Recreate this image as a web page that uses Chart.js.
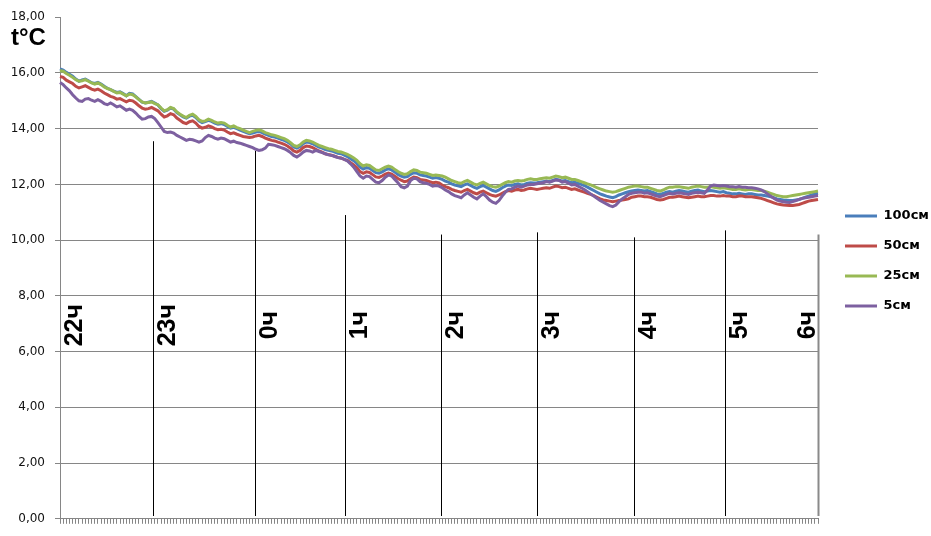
<!DOCTYPE html>
<html>
<head>
<meta charset="utf-8">
<script src="https://cdn.jsdelivr.net/npm/chart.js@4/dist/chart.umd.min.js"></script>
<style>
html,body{margin:0;padding:0;background:#fff;}
#c{display:block;}
</style>
</head>
<body>
<canvas id="c" width="931" height="536"></canvas>
<script>
// ---- categories: one reading every 2 minutes from 22:00 to 6:00 ----
const startHour = 22;
const stepMinutes = 2;
const pointCount = 241;
const categories = [];
for (let i = 0; i < pointCount; i++) {
  const m = startHour * 60 + i * stepMinutes;
  const h = Math.floor(m / 60) % 24, mm = m % 60;
  categories.push(h + ':' + String(mm).padStart(2, '0'));
}

const seriesNames = ['100см', '50см', '25см', '5см'];
const seriesColors = ['#4a7ebb', '#be4b48', '#98b954', '#7d60a0'];

const t100 = [
16.15,16.10,16.02,15.95,15.88,15.78,15.70,15.75,15.78,15.72,15.65,15.62,15.66,15.60,15.52,15.45,15.40,15.35,15.30,15.32,15.26,15.18,15.27,15.25,15.15,15.05,14.95,14.92,14.95,14.98,14.92,
14.85,14.72,14.62,14.66,14.74,14.70,14.58,14.50,14.42,14.38,14.45,14.48,14.40,14.28,14.22,14.25,14.30,14.26,14.20,14.16,14.18,14.15,14.08,14.02,14.05,14.00,13.95,13.90,13.86,13.82,
13.84,13.88,13.90,13.86,13.80,13.76,13.72,13.70,13.66,13.62,13.58,13.52,13.45,13.34,13.30,13.36,13.46,13.52,13.50,13.46,13.40,13.34,13.30,13.25,13.22,13.20,13.16,13.12,13.10,13.05,
13.00,12.92,12.85,12.75,12.62,12.55,12.60,12.58,12.50,12.42,12.40,12.45,12.52,12.56,12.52,12.44,12.36,12.30,12.26,12.28,12.36,12.42,12.40,12.34,12.32,12.30,12.26,12.22,12.25,12.22,
12.18,12.12,12.08,12.02,11.98,11.95,11.92,11.98,12.02,11.96,11.90,11.86,11.92,11.96,11.90,11.84,11.78,11.75,11.80,11.88,11.94,11.98,11.96,12.00,12.02,11.98,12.00,12.04,12.06,12.05,
12.06,12.08,12.10,12.12,12.10,12.14,12.18,12.16,12.12,12.14,12.10,12.06,12.08,12.04,12.00,11.96,11.90,11.84,11.78,11.72,11.66,11.62,11.58,11.55,11.52,11.56,11.62,11.66,11.70,11.74,
11.76,11.78,11.80,11.78,11.76,11.78,11.74,11.70,11.66,11.64,11.68,11.72,11.74,11.72,11.76,11.78,11.76,11.74,11.72,11.76,11.78,11.80,11.76,11.74,11.76,11.78,11.76,11.74,11.72,11.74,
11.70,11.68,11.66,11.66,11.68,11.66,11.64,11.66,11.66,11.64,11.62,11.62,11.60,11.58,11.56,11.52,11.48,11.46,11.44,11.43,11.42,11.42,11.44,11.46,11.50,11.54,11.58,11.62,11.66,11.68
];

const t50 = [
15.87,15.84,15.74,15.68,15.62,15.52,15.46,15.50,15.54,15.48,15.42,15.38,15.42,15.36,15.28,15.22,15.16,15.12,15.06,15.08,15.02,14.96,15.02,15.00,14.92,14.82,14.74,14.70,14.72,14.76,14.70,
14.64,14.52,14.42,14.46,14.54,14.50,14.38,14.30,14.22,14.18,14.25,14.28,14.20,14.08,14.02,14.05,14.10,14.06,14.00,13.96,13.98,13.95,13.88,13.82,13.85,13.80,13.76,13.72,13.70,13.68,
13.70,13.74,13.76,13.72,13.66,13.62,13.58,13.56,13.52,13.48,13.44,13.38,13.30,13.20,13.16,13.22,13.32,13.38,13.36,13.32,13.26,13.20,13.16,13.10,13.07,13.05,13.01,12.97,12.95,12.90,
12.86,12.78,12.70,12.60,12.46,12.40,12.45,12.43,12.35,12.27,12.25,12.30,12.37,12.41,12.37,12.29,12.21,12.15,12.10,12.12,12.20,12.26,12.24,12.18,12.16,12.14,12.10,12.06,12.08,12.05,
11.98,11.92,11.88,11.82,11.78,11.75,11.72,11.78,11.82,11.76,11.70,11.66,11.72,11.76,11.70,11.64,11.60,11.58,11.62,11.68,11.74,11.78,11.76,11.80,11.82,11.78,11.80,11.84,11.86,11.84,
11.82,11.84,11.86,11.88,11.86,11.90,11.94,11.92,11.88,11.90,11.86,11.82,11.84,11.80,11.76,11.72,11.68,11.64,11.60,11.54,11.48,11.44,11.42,11.40,11.38,11.40,11.42,11.44,11.46,11.48,
11.54,11.56,11.58,11.58,11.56,11.56,11.54,11.50,11.46,11.44,11.46,11.50,11.54,11.54,11.56,11.58,11.56,11.54,11.52,11.54,11.56,11.58,11.56,11.56,11.58,11.60,11.60,11.58,11.58,11.60,
11.58,11.58,11.56,11.56,11.58,11.58,11.56,11.56,11.56,11.54,11.52,11.50,11.46,11.42,11.38,11.34,11.30,11.28,11.26,11.25,11.24,11.24,11.26,11.28,11.32,11.36,11.40,11.42,11.44,11.46
];

const t25 = [
16.08,16.06,15.98,15.92,15.84,15.76,15.70,15.72,15.76,15.70,15.64,15.60,15.64,15.58,15.50,15.44,15.40,15.34,15.28,15.30,15.24,15.18,15.24,15.22,15.14,15.04,14.96,14.92,14.94,14.96,14.90,
14.86,14.74,14.64,14.68,14.76,14.72,14.60,14.52,14.45,14.40,14.48,14.52,14.44,14.32,14.26,14.28,14.34,14.30,14.24,14.20,14.22,14.20,14.12,14.06,14.10,14.04,14.00,13.95,13.90,13.86,
13.90,13.94,13.96,13.92,13.86,13.82,13.78,13.76,13.72,13.68,13.64,13.58,13.50,13.40,13.36,13.42,13.52,13.58,13.56,13.52,13.46,13.40,13.36,13.32,13.28,13.26,13.22,13.18,13.16,13.12,
13.08,13.02,12.95,12.86,12.74,12.66,12.70,12.68,12.60,12.52,12.50,12.56,12.62,12.66,12.62,12.54,12.46,12.40,12.36,12.38,12.46,12.52,12.50,12.44,12.42,12.40,12.36,12.32,12.34,12.32,
12.30,12.26,12.20,12.14,12.10,12.06,12.04,12.10,12.14,12.08,12.02,11.98,12.04,12.08,12.02,11.96,11.92,11.90,11.94,12.00,12.06,12.10,12.08,12.12,12.14,12.12,12.14,12.18,12.20,12.18,
12.18,12.20,12.22,12.24,12.22,12.26,12.30,12.28,12.24,12.26,12.22,12.18,12.18,12.14,12.10,12.06,12.02,11.98,11.94,11.88,11.84,11.80,11.76,11.74,11.72,11.74,11.78,11.82,11.86,11.90,
11.92,11.94,11.94,11.92,11.90,11.90,11.86,11.82,11.78,11.76,11.80,11.86,11.90,11.90,11.92,11.92,11.90,11.88,11.86,11.90,11.92,11.94,11.92,11.90,11.90,11.92,11.90,11.88,11.86,11.88,
11.86,11.84,11.82,11.82,11.84,11.82,11.80,11.82,11.82,11.80,11.78,11.78,11.76,11.72,11.68,11.64,11.60,11.58,11.56,11.56,11.58,11.60,11.62,11.64,11.66,11.68,11.70,11.72,11.74,11.76
];

const t5 = [
15.66,15.58,15.46,15.36,15.22,15.10,15.00,14.98,15.06,15.08,15.02,14.98,15.04,14.98,14.90,14.86,14.92,14.86,14.78,14.82,14.74,14.66,14.70,14.66,14.56,14.44,14.34,14.36,14.42,14.44,14.36,
14.22,14.06,13.90,13.86,13.88,13.84,13.76,13.70,13.64,13.58,13.62,13.60,13.56,13.52,13.56,13.68,13.76,13.72,13.66,13.62,13.66,13.64,13.58,13.52,13.55,13.50,13.48,13.44,13.40,13.36,
13.32,13.26,13.22,13.24,13.30,13.44,13.42,13.40,13.36,13.32,13.28,13.22,13.14,13.04,12.98,13.06,13.16,13.22,13.20,13.16,13.22,13.18,13.14,13.10,13.06,13.04,13.00,12.96,12.94,12.90,
12.84,12.74,12.62,12.46,12.30,12.22,12.30,12.28,12.18,12.08,12.06,12.14,12.26,12.34,12.30,12.18,12.06,11.92,11.88,11.94,12.14,12.22,12.20,12.10,12.06,12.04,12.00,11.94,11.96,11.94,
11.88,11.80,11.74,11.66,11.60,11.56,11.52,11.62,11.70,11.62,11.54,11.48,11.58,11.66,11.56,11.44,11.36,11.32,11.42,11.58,11.72,11.82,11.84,11.90,11.94,11.90,11.94,11.98,12.00,12.00,
12.02,12.04,12.06,12.10,12.08,12.12,12.16,12.14,12.08,12.10,12.04,11.98,12.00,11.94,11.88,11.82,11.74,11.66,11.58,11.50,11.42,11.36,11.30,11.24,11.20,11.26,11.38,11.48,11.56,11.64,
11.68,11.70,11.72,11.72,11.68,11.70,11.66,11.62,11.58,11.56,11.60,11.64,11.68,11.66,11.68,11.70,11.68,11.66,11.64,11.68,11.70,11.72,11.70,11.68,11.80,11.94,11.98,11.96,11.94,11.96,
11.94,11.92,11.92,11.90,11.92,11.90,11.90,11.88,11.88,11.86,11.84,11.80,11.74,11.66,11.58,11.50,11.44,11.40,11.38,11.36,11.35,11.38,11.42,11.46,11.50,11.52,11.54,11.56,11.58,11.60
];

// ---- y axis ----
const yMin = 0, yMax = 18, yStep = 2;
// gridline colour per tick (0 … 18); no gridline at the top value
const gridColors = ['#868686','#868686','#868686','#868686','#868686','#868686','#868686','#868686','#868686','rgba(0,0,0,0)'];

// ---- hour markers (position in category units, top of drawn line in °C) ----
const hourLabels = ['22ч', '23ч', '0ч', '1ч', '2ч', '3ч', '4ч', '5ч', '6ч'];
const hourPos = [0, 29.5, 61.7, 90.3, 120.6, 151, 181.7, 210.5, 240];
const hourLineTop = [null, 13.55, 13.2, 10.9, 10.2, 10.28, 10.1, 10.35, 10.2];
const hourLineBottom = 0.1;
const hourLabelValue = 6.95;

// value gridlines as 1-px filled bands at the y scale's ticks (same rows as the scale's own grid)
const valueGrid = {
  id: 'valueGrid',
  beforeDatasetsDraw(chart) {
    const ctx = chart.ctx;
    const area = chart.chartArea;
    const yScale = chart.scales.y;
    ctx.save();
    ctx.fillStyle = '#868686';
    yScale.ticks.forEach((t, i) => {
      if (t.value >= yMax || t.value <= yMin) return;
      const row = Math.round(yScale.getPixelForValue(t.value) - 0.5);
      ctx.fillRect(Math.round(area.left), row, Math.round(area.right - area.left), 1);
    });
    ctx.restore();
  }
};

const legendShift = {
  id: 'legendShift',
  afterLayout(chart) {
    if (chart.legend) { chart.legend.top -= 9; chart.legend.bottom -= 9; }
  }
};

const hourMarks = {
  id: 'hourMarks',
  beforeDatasetsDraw(chart) {
    const {ctx, scales: {x, y}} = chart;
    ctx.save();
    hourPos.forEach((p, k) => {
      if (hourLineTop[k] == null) return;
      const px = Math.round(x.getPixelForValue(p)) + 0.5;
      const last = k === hourPos.length - 1;
      ctx.strokeStyle = last ? '#8a8a8a' : '#000';
      ctx.lineWidth = last ? 2 : 1;
      ctx.beginPath();
      ctx.moveTo(px, y.getPixelForValue(hourLineTop[k]));
      ctx.lineTo(px, y.getPixelForValue(hourLineBottom));
      ctx.stroke();
    });
    ctx.restore();
  },
  afterDatasetsDraw(chart) {
    const {ctx, scales: {x, y}} = chart;
    ctx.save();
    ctx.fillStyle = '#000';
    ctx.font = 'bold 25px "Liberation Sans", Arial, sans-serif';
    ctx.textAlign = 'center';
    ctx.textBaseline = 'alphabetic';
    hourPos.forEach((p, k) => {
      const px = x.getPixelForValue(p);
      const last = k === hourPos.length - 1;
      ctx.save();
      ctx.translate(last ? px - 3 : px + 22, y.getPixelForValue(hourLabelValue));
      ctx.rotate(-Math.PI / 2);
      ctx.fillText(hourLabels[k], 0, 0);
      ctx.restore();
    });
    ctx.textAlign = 'left';
    ctx.font = 'bold 24px "Liberation Sans", Arial, sans-serif';
    ctx.fillText('t°C', 11, 45);
    ctx.restore();
  }
};

const values = [t100, t50, t25, t5];
const drawOrder = [3, 2, 1, 0];

new Chart(document.getElementById('c'), {
  type: 'line',
  data: {
    labels: categories,
    datasets: seriesNames.map((name, i) => ({
      label: name,
      data: values[i],
      borderColor: seriesColors[i],
      backgroundColor: seriesColors[i],
      borderWidth: 3,
      pointRadius: 0,
      pointHoverRadius: 0,
      tension: 0,
      fill: false,
      order: drawOrder[i]
    }))
  },
  options: {
    responsive: false,
    animation: false,
    devicePixelRatio: 1,
    layout: { padding: { left: 8, top: 10, right: 0, bottom: 6 } },
    plugins: {
      tooltip: { enabled: false },
      legend: {
        position: 'right',
        align: 'center',
        maxWidth: 103,
        labels: {
          boxWidth: 32,
          boxHeight: 3,
          padding: 17,
          color: '#000',
          font: { family: '"DejaVu Sans", sans-serif', weight: 'bold', size: 13 },
          sort: (a, b) => a.datasetIndex - b.datasetIndex,
          generateLabels: (chart) => Chart.defaults.plugins.legend.labels.generateLabels(chart)
            .map(l => Object.assign(l, { lineWidth: 0 }))
        }
      }
    },
    scales: {
      x: {
        type: 'category',
        offset: false,
        grid: { display: true, drawOnChartArea: false, drawTicks: true, tickLength: 5, color: '#868686', tickColor: '#868686' },
        border: { display: true, color: '#868686', width: 1 },
        ticks: { display: false, autoSkip: false }
      },
      y: {
        min: yMin,
        max: yMax,
        afterFit: (s) => { s.width = 52; },
        ticks: {
          stepSize: yStep,
          padding: 10,
          color: '#111',
          font: { family: '"DejaVu Sans", sans-serif', size: 12 },
          callback: (v) => v.toFixed(2).replace('.', ',')
        },
        grid: {
          display: true,
          drawOnChartArea: true,
          color: gridColors,
          lineWidth: 1,
          tickColor: '#868686',
          tickWidth: 1,
          tickLength: 5,
          drawTicks: true
        },
        border: { display: true, color: '#868686', width: 1 }
      },
      yR: {
        type: 'linear',
        position: 'right',
        display: true,
        afterFit: (s) => { s.width = 10; },
        grid: { display: false },
        border: { display: false },
        ticks: { display: false }
      }
    }
  },
  plugins: [valueGrid, hourMarks, legendShift]
});
</script>
</body>
</html>
